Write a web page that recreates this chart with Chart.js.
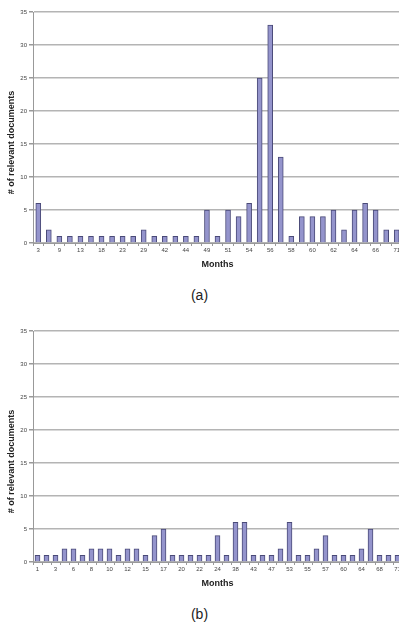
<!DOCTYPE html>
<html>
<head>
<meta charset="utf-8">
<script src="https://cdn.jsdelivr.net/npm/chart.js@4.4.1/dist/chart.umd.min.js"></script>
<style>
  html, body { margin: 0; padding: 0; background: #fff; overflow: hidden; }
  body { width: 399px; height: 631px; position: relative; font-family: "Liberation Sans", Arial, sans-serif; }
  .wrap { position: absolute; left: 0; width: 406px; height: 272px; }
  .cap { position: absolute; left: 0; width: 399px; text-align: center; font-size: 14px; color: #222; }
</style>
</head>
<body>
<div class="wrap" style="top:0"><canvas id="chartA"></canvas></div>
<div class="cap" style="top:287px">(a)</div>
<div class="wrap" style="top:319px"><canvas id="chartB"></canvas></div>
<div class="cap" style="top:606px">(b)</div>
<script>
// (a) months, odd entries are unlabeled in the figure
const monthsA = ["3","6","9","11","13","15","18","20","23","26","29","35","42","43","44","46","49","50",
  "51","53","54","55","56","57","58","59","60","61","62","63","64","65","66","69","71"];
const docsA = [6,2,1,1,1,1,1,1,1,1,2,1,1,1,1,1,5,1,5,4,6,25,33,13,1,4,4,4,5,2,5,6,5,2,2];

// (b)
const monthsB = ["1","2","3","5","6","7","8","9","10","11","12","14","15","16","17","19","20","21","22","23",
  "24","30","38","40","43","45","47","50","53","54","55","56","57","58","60","62","64","66","68","70","71"];
const docsB = [1,1,1,2,2,1,2,2,2,1,2,2,1,4,5,1,1,1,1,1,4,1,6,6,1,1,1,2,6,1,1,2,4,1,1,1,2,5,1,1,1];

const yTicks = [0, 5, 10, 15, 20, 25, 30, 35];

const BAR_FILL = "#9494cc";
const BAR_EDGE = "#4a4a78";
const GRID = "#b4b4b4";
const TEXT = "#444";
// trailing blanks push the rotated title a little lower, as in the scan
const Y_TITLE = "# of relevant documents" + "\u00a0".repeat(12);

function makeChart(id, labels, data) {
  return new Chart(document.getElementById(id), {
    type: "bar",
    data: {
      labels,
      datasets: [{
        data,
        backgroundColor: BAR_FILL,
        borderColor: BAR_EDGE,
        borderWidth: 1,
        barThickness: 5,
      }],
    },
    options: {
      responsive: true,
      maintainAspectRatio: false,
      animation: false,
      layout: { padding: { top: 12, right: 4, left: 0, bottom: 0 } },
      plugins: { legend: { display: false }, tooltip: { enabled: false } },
      scales: {
        x: {
          offset: true,
          grid: { display: true, drawOnChartArea: false, drawTicks: true, tickLength: 3, color: "#999", offset: true },
          border: { color: "#999", width: 1 },
          ticks: {
            autoSkip: false, maxRotation: 0, padding: 1,
            color: TEXT, font: { size: 6, family: "Liberation Sans" },
            callback: (v, i) => (i % 2 === 0 ? labels[i] : ""),
          },
          title: { display: true, text: "Months", color: "#222", padding: { top: 2, bottom: 2 },
                   font: { size: 9, weight: "bold", family: "Liberation Sans" } },
          afterFit: (s) => { s.height = 29; },
        },
        y: {
          min: 0, max: 35,
          afterBuildTicks: (s) => { s.ticks = yTicks.map((v) => ({ value: v })); },
          grid: { color: GRID, lineWidth: 1.5, tickLength: 4, tickColor: "#999" },
          border: { color: "#999", width: 1 },
          ticks: { padding: 2, color: TEXT, font: { size: 6, family: "Liberation Sans" } },
          title: { display: true, text: Y_TITLE, color: "#222", padding: { top: 6, bottom: 0 },
                   font: { size: 9, weight: "bold", family: "Liberation Sans" } },
          afterFit: (s) => { s.width = 33; },
        },
      },
    },
  });
}

makeChart("chartA", monthsA, docsA);
makeChart("chartB", monthsB, docsB);
</script>
</body>
</html>
